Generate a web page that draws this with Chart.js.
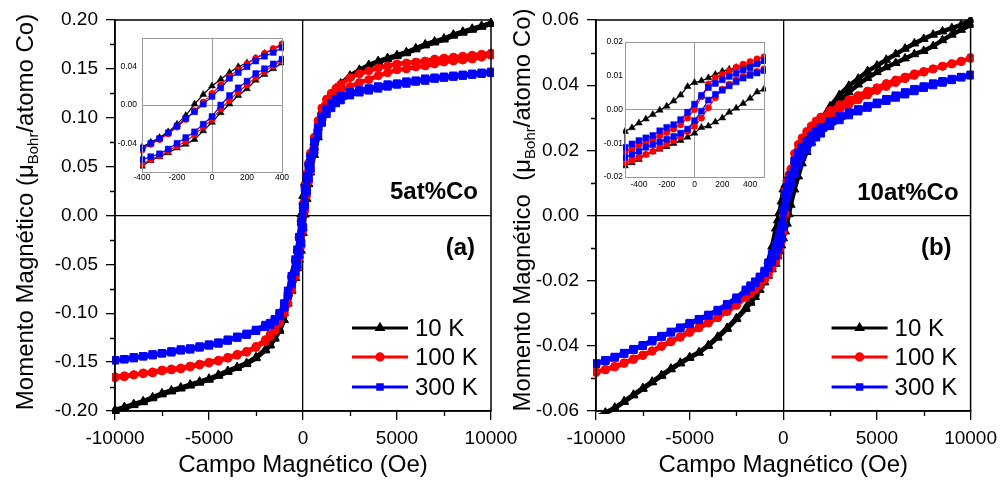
<!DOCTYPE html>
<html>
<head>
<meta charset="utf-8">
<script src="https://cdn.jsdelivr.net/npm/chart.js@4.4.0/dist/chart.umd.min.js"></script>
<style>
  html, body { margin: 0; background: #fff; }
  #wrap { position: relative; width: 1004px; height: 489px; overflow: hidden; background: #fff; }
  #wrap canvas { position: absolute; }
</style>
</head>
<body>
<div id="wrap">
  <canvas id="mainA" width="530" height="489" style="left:0;top:0"></canvas>
  <canvas id="mainB" width="524" height="489" style="left:480px;top:0"></canvas>
  <canvas id="insetA" width="192" height="162" style="left:100px;top:28px"></canvas>
  <canvas id="insetB" width="190" height="162" style="left:585px;top:34px"></canvas>
</div>
<script>
const FONT = 'Arial, "Liberation Sans", sans-serif'

// field grid (Oe) shared by all main loops
const field = [
  -10000, -9500, -9000, -8500, -8000, -7500, -7000, -6500, -6000, -5500, -5000, -4500, -4000, -3500, -3000,
  -2500, -2000,
  -1750, -1500, -1250, -1000,
  -800, -600, -400, -300, -200, -100,
  0,
  100, 200, 300, 400, 600, 800,
  1000, 1250, 1500, 1750,
  2000, 2500,
  3000, 3500, 4000, 4500, 5000, 5500, 6000, 6500, 7000, 7500, 8000, 8500, 9000, 9500, 10000
]
const fieldInsetA = [-400, -350, -300, -250, -200, -150, -100, -50, 0, 50, 100, 150, 200, 250, 300, 350, 400]
const fieldInsetB = [-500, -450, -400, -350, -300, -250, -200, -150, -100, -50, 0, 50, 100, 150, 200, 250, 300, 350, 400, 450, 500]

const temps = ['10 K', '100 K', '300 K']

const xTicksMain = [-10000, -5000, 0, 5000, 10000]
const xMinorMain = [-7500, -2500, 2500, 7500]
const yTicksA = [-0.2, -0.15, -0.1, -0.05, 0, 0.05, 0.1, 0.15, 0.2]
const yMinorA = [-0.175, -0.125, -0.075, -0.025, 0.025, 0.075, 0.125, 0.175]
const yTicksB = [-0.06, -0.04, -0.02, 0, 0.02, 0.04, 0.06]
const yMinorB = [-0.05, -0.03, -0.01, 0.01, 0.03, 0.05]
const xTicksInsetA = [-400, -200, 0, 200, 400]
const yTicksInsetA = [-0.04, 0, 0.04]
const xTicksInsetB = [-400, -200, 0, 200, 400]
const yTicksInsetB = [-0.02, -0.01, 0, 0.01, 0.02]

// 5at%Co  -- "down" = field swept from +10 kOe, "up" = swept back from -10 kOe
const a10Down = [
  -0.199, -0.196, -0.193, -0.190, -0.186, -0.182, -0.179, -0.176, -0.173, -0.170, -0.167, -0.163, -0.159, -0.155, -0.151,
  -0.145, -0.137,
  -0.132, -0.125, -0.116, -0.100,
  -0.080, -0.060, -0.044, -0.034, -0.020, 0.001,
  0.020,
  0.034, 0.044, 0.054, 0.063, 0.075, 0.090,
  0.107, 0.117, 0.124, 0.130,
  0.135, 0.143,
  0.149, 0.154, 0.158, 0.161, 0.164, 0.167, 0.171, 0.175, 0.178, 0.181, 0.185, 0.188, 0.191, 0.194, 0.197
]
const a10Up = [
  -0.200, -0.197, -0.194, -0.191, -0.187, -0.183, -0.180, -0.177, -0.174, -0.171, -0.168, -0.164, -0.160, -0.156, -0.152,
  -0.146, -0.138,
  -0.133, -0.126, -0.118, -0.107,
  -0.090, -0.077, -0.064, -0.054, -0.045, -0.036,
  -0.018,
  0.001, 0.017, 0.032, 0.044, 0.062, 0.080,
  0.100, 0.115, 0.123, 0.129,
  0.134, 0.142,
  0.148, 0.153, 0.157, 0.160, 0.163, 0.166, 0.170, 0.174, 0.177, 0.180, 0.184, 0.187, 0.190, 0.193, 0.196
]
const a100Down = [
  -0.165, -0.164, -0.163, -0.161, -0.160, -0.158, -0.157, -0.156, -0.154, -0.152, -0.150, -0.148, -0.145, -0.142, -0.139,
  -0.134, -0.127,
  -0.122, -0.116, -0.107, -0.095,
  -0.080, -0.064, -0.047, -0.036, -0.023, -0.006,
  0.012,
  0.030, 0.043, 0.054, 0.064, 0.080, 0.097,
  0.110, 0.119, 0.125, 0.130,
  0.134, 0.141,
  0.145, 0.148, 0.151, 0.153, 0.155, 0.156, 0.157, 0.158, 0.160, 0.161, 0.162, 0.163, 0.164, 0.165, 0.166
]
const a100Up = [
  -0.166, -0.165, -0.163, -0.162, -0.161, -0.159, -0.158, -0.157, -0.155, -0.153, -0.151, -0.149, -0.146, -0.143, -0.140,
  -0.135, -0.129,
  -0.124, -0.118, -0.110, -0.100,
  -0.090, -0.076, -0.062, -0.053, -0.043, -0.031,
  -0.015,
  0.005, 0.021, 0.035, 0.046, 0.068, 0.088,
  0.103, 0.113, 0.119, 0.123,
  0.127, 0.132,
  0.136, 0.139, 0.143, 0.146, 0.149, 0.150, 0.152, 0.153, 0.155, 0.157, 0.158, 0.159, 0.160, 0.162, 0.164
]
const a300Down = [
  -0.148, -0.147, -0.145, -0.144, -0.142, -0.141, -0.139, -0.137, -0.136, -0.134, -0.132, -0.130, -0.127, -0.124, -0.121,
  -0.117, -0.112,
  -0.110, -0.106, -0.100, -0.090,
  -0.077, -0.062, -0.045, -0.035, -0.022, -0.007,
  0.009,
  0.028, 0.040, 0.051, 0.060, 0.075, 0.090,
  0.101, 0.109, 0.115, 0.119,
  0.122, 0.126,
  0.128, 0.130, 0.132, 0.134, 0.135, 0.137, 0.138, 0.140, 0.141, 0.142, 0.143, 0.144, 0.145, 0.146, 0.147
]
const a300Up = [
  -0.148, -0.147, -0.146, -0.144, -0.143, -0.141, -0.140, -0.138, -0.137, -0.135, -0.133, -0.131, -0.128, -0.125, -0.122,
  -0.118, -0.114,
  -0.112, -0.108, -0.103, -0.094,
  -0.082, -0.070, -0.057, -0.051, -0.040, -0.028,
  -0.012,
  0.010, 0.025, 0.038, 0.048, 0.066, 0.083,
  0.095, 0.104, 0.110, 0.115,
  0.118, 0.123,
  0.126, 0.128, 0.130, 0.132, 0.134, 0.135, 0.137, 0.138, 0.140, 0.141, 0.142, 0.143, 0.144, 0.145, 0.146
]

// 10at%Co
const b10Down = [
  -0.0620, -0.0605, -0.0590, -0.0570, -0.0550, -0.0530, -0.0510, -0.0490, -0.0470, -0.0452, -0.0435, -0.0420, -0.0398, -0.0372, -0.0345,
  -0.0315, -0.0283,
  -0.0262, -0.0240, -0.0215, -0.0185,
  -0.0140, -0.0095, -0.0040, -0.0015, 0.0010, 0.0043,
  0.0080,
  0.0094, 0.0113, 0.0124, 0.0133, 0.0160, 0.0180,
  0.0200, 0.0228, 0.0252, 0.0275,
  0.0295, 0.0335,
  0.0370, 0.0398, 0.0420, 0.0443, 0.0460, 0.0478, 0.0495, 0.0512, 0.0528, 0.0542, 0.0555, 0.0565, 0.0575, 0.0585, 0.0600
]
const b10Up = [
  -0.0622, -0.0607, -0.0592, -0.0572, -0.0552, -0.0532, -0.0512, -0.0492, -0.0472, -0.0454, -0.0437, -0.0421, -0.0400, -0.0375, -0.0348,
  -0.0318, -0.0287,
  -0.0268, -0.0250, -0.0228, -0.0205,
  -0.0185, -0.0165, -0.0148, -0.0125, -0.0110, -0.0092,
  -0.0070,
  -0.0049, -0.0025, 0.0004, 0.0033, 0.0080, 0.0120,
  0.0160, 0.0195, 0.0225, 0.0250,
  0.0275, 0.0315,
  0.0350, 0.0378, 0.0402, 0.0422, 0.0440, 0.0455, 0.0468, 0.0482, 0.0495, 0.0505, 0.0520, 0.0538, 0.0555, 0.0570, 0.0585
]
const b100Down = [
  -0.0480, -0.0472, -0.0463, -0.0452, -0.0440, -0.0428, -0.0415, -0.0400, -0.0386, -0.0372, -0.0357, -0.0343, -0.0328, -0.0312, -0.0292,
  -0.0272, -0.0248,
  -0.0235, -0.0222, -0.0208, -0.0190,
  -0.0168, -0.0140, -0.0106, -0.0088, -0.0068, -0.0045,
  0.0000,
  0.0075, 0.0104, 0.0125, 0.0142, 0.0190, 0.0218,
  0.0238, 0.0258, 0.0275, 0.0290,
  0.0302, 0.0322,
  0.0340, 0.0355, 0.0368, 0.0382, 0.0392, 0.0405, 0.0416, 0.0425, 0.0435, 0.0442, 0.0450, 0.0458, 0.0465, 0.0472, 0.0485
]
const b100Up = [
  -0.0482, -0.0474, -0.0465, -0.0454, -0.0442, -0.0430, -0.0417, -0.0402, -0.0388, -0.0374, -0.0359, -0.0345, -0.0330, -0.0314, -0.0295,
  -0.0276, -0.0252,
  -0.0240, -0.0228, -0.0213, -0.0198,
  -0.0182, -0.0162, -0.0142, -0.0124, -0.0103, -0.0080,
  -0.0050,
  0.0005, 0.0060, 0.0088, 0.0106, 0.0140, 0.0170,
  0.0195, 0.0222, 0.0245, 0.0262,
  0.0278, 0.0303,
  0.0322, 0.0340, 0.0355, 0.0370, 0.0384, 0.0396, 0.0408, 0.0420, 0.0430, 0.0440, 0.0450, 0.0458, 0.0466, 0.0474, 0.0482
]
const b300Down = [
  -0.0454, -0.0444, -0.0434, -0.0422, -0.0410, -0.0398, -0.0383, -0.0370, -0.0357, -0.0344, -0.0330, -0.0318, -0.0305, -0.0290, -0.0272,
  -0.0252, -0.0228,
  -0.0215, -0.0203, -0.0188, -0.0170,
  -0.0145, -0.0118, -0.0092, -0.0077, -0.0053, -0.0030,
  0.0016,
  0.0065, 0.0088, 0.0107, 0.0124, 0.0168, 0.0192,
  0.0210, 0.0228, 0.0245, 0.0258,
  0.0270, 0.0289,
  0.0304, 0.0316, 0.0326, 0.0336, 0.0346, 0.0357, 0.0368, 0.0378, 0.0388, 0.0396, 0.0405, 0.0412, 0.0419, 0.0425, 0.0432
]
const b300Up = [
  -0.0455, -0.0446, -0.0436, -0.0424, -0.0412, -0.0400, -0.0386, -0.0372, -0.0359, -0.0346, -0.0333, -0.0320, -0.0307, -0.0293, -0.0275,
  -0.0256, -0.0232,
  -0.0220, -0.0207, -0.0192, -0.0176,
  -0.0160, -0.0142, -0.0124, -0.0104, -0.0088, -0.0070,
  -0.0033,
  0.0028, 0.0057, 0.0082, 0.0101, 0.0128, 0.0155,
  0.0180, 0.0205, 0.0225, 0.0240,
  0.0252, 0.0275,
  0.0293, 0.0308, 0.0320, 0.0331, 0.0342, 0.0352, 0.0362, 0.0372, 0.0382, 0.0392, 0.0400, 0.0408, 0.0416, 0.0424, 0.0430
]

// low-field detail, 5at%Co
const ia10Down = [-0.044, -0.039, -0.034, -0.028, -0.020, -0.011, 0.001, 0.011, 0.020, 0.027, 0.034, 0.040, 0.044, 0.049, 0.054, 0.058, 0.063]
const ia10Up = [-0.064, -0.058, -0.054, -0.050, -0.045, -0.041, -0.036, -0.027, -0.018, -0.008, 0.001, 0.010, 0.017, 0.026, 0.032, 0.038, 0.044]
const ia100Down = [-0.047, -0.041, -0.036, -0.030, -0.023, -0.015, -0.006, 0.003, 0.012, 0.021, 0.030, 0.037, 0.043, 0.049, 0.054, 0.059, 0.064]
const ia100Up = [-0.062, -0.057, -0.053, -0.048, -0.043, -0.038, -0.031, -0.023, -0.015, -0.004, 0.005, 0.014, 0.021, 0.029, 0.035, 0.041, 0.046]
const ia300Down = [-0.045, -0.040, -0.035, -0.029, -0.022, -0.014, -0.007, 0.001, 0.009, 0.018, 0.028, 0.034, 0.040, 0.046, 0.051, 0.055, 0.060]
const ia300Up = [-0.057, -0.054, -0.051, -0.046, -0.040, -0.034, -0.028, -0.020, -0.012, 0.000, 0.010, 0.018, 0.025, 0.033, 0.038, 0.043, 0.048]

// low-field detail, 10at%Co
const ib10Down = [-0.0065, -0.0054, -0.0040, -0.0028, -0.0015, -0.0002, 0.0010, 0.0025, 0.0043, 0.0068, 0.0080, 0.0085, 0.0094, 0.0104, 0.0113, 0.0119, 0.0124, 0.0129, 0.0133, 0.0138, 0.0142]
const ib10Up = [-0.0167, -0.0158, -0.0148, -0.0134, -0.0125, -0.0118, -0.0110, -0.0101, -0.0092, -0.0082, -0.0070, -0.0053, -0.0049, -0.0037, -0.0025, -0.0008, 0.0004, 0.0018, 0.0033, 0.0052, 0.0060]
const ib100Down = [-0.0125, -0.0116, -0.0106, -0.0097, -0.0088, -0.0078, -0.0068, -0.0058, -0.0045, -0.0025, 0.0000, 0.0038, 0.0075, 0.0094, 0.0104, 0.0115, 0.0125, 0.0134, 0.0142, 0.0150, 0.0156]
const ib100Up = [-0.0158, -0.0150, -0.0142, -0.0133, -0.0124, -0.0113, -0.0103, -0.0092, -0.0080, -0.0065, -0.0050, -0.0025, 0.0005, 0.0035, 0.0060, 0.0075, 0.0088, 0.0098, 0.0106, 0.0113, 0.0120]
const ib300Down = [-0.0112, -0.0102, -0.0092, -0.0084, -0.0077, -0.0063, -0.0053, -0.0045, -0.0030, -0.0008, 0.0016, 0.0042, 0.0065, 0.0077, 0.0088, 0.0098, 0.0107, 0.0117, 0.0124, 0.0135, 0.0145]
const ib300Up = [-0.0142, -0.0133, -0.0124, -0.0112, -0.0104, -0.0096, -0.0088, -0.0080, -0.0070, -0.0058, -0.0033, -0.0005, 0.0028, 0.0045, 0.0057, 0.0070, 0.0082, 0.0093, 0.0101, 0.0108, 0.0115]

// marker look per temperature; blue ends up on top
const series = [
  { color: '#000000', style: 'triangle', order: 2, r: 5, ri: 4 },
  { color: '#ff0000', style: 'circle', order: 1, r: 4, ri: 3.2 },
  { color: '#0000ff', style: 'rect', order: 0, r: 5.2, ri: 4.2 }
]

// descending branch then ascending branch -> closed loop
function loop(h, down, up) {
  const pts = []
  for (let i = h.length - 1; i >= 0; i--) pts.push({ x: h[i], y: down[i] })
  for (let i = 0; i < h.length; i++) pts.push({ x: h[i], y: up[i] })
  return pts
}

function makeDatasets(loops, small) {
  return loops.map((pts, i) => ({
    label: temps[i],
    data: pts,
    showLine: true,
    borderColor: series[i].color,
    backgroundColor: series[i].color,
    pointBackgroundColor: series[i].color,
    pointBorderColor: series[i].color,
    pointStyle: series[i].style,
    pointRadius: small ? series[i].ri : series[i].r,
    pointBorderWidth: small ? 0.5 : 1,
    borderWidth: small ? 1.2 : 4.5,
    order: series[i].order,
    clip: small ? 2 : 3
  }))
}

const zeroLine = color => c => (c.tick && Math.abs(c.tick.value) < 1e-12 ? color : 'rgba(0,0,0,0)')

// frame, minor ticks, legend, panel labels and the y title with subscript
const panelDecor = {
  id: 'panelDecor',
  afterDraw(chart, args, o) {
    const { ctx, chartArea: a } = chart
    const xs = chart.scales.x, ys = chart.scales.y
    ctx.save()
    ctx.strokeStyle = '#000'
    ctx.lineWidth = 1.5
    ctx.strokeRect(a.left, a.top, a.right - a.left, a.bottom - a.top)

    ctx.lineWidth = 1.3
    ctx.beginPath()
    o.xMinor.forEach(v => {
      const p = Math.round(xs.getPixelForValue(v)) + 0.5
      ctx.moveTo(p, a.bottom); ctx.lineTo(p, a.bottom + 5)
    })
    o.yMinor.forEach(v => {
      const p = Math.round(ys.getPixelForValue(v)) + 0.5
      ctx.moveTo(a.left - 5, p); ctx.lineTo(a.left, p)
    })
    ctx.stroke()

    // legend
    const rows = [83, 54, 24]
    temps.forEach((t, i) => {
      const y = a.bottom - rows[i]
      const x0 = a.right - 139, x1 = a.right - 83
      ctx.strokeStyle = series[i].color
      ctx.fillStyle = series[i].color
      ctx.lineWidth = 3
      ctx.beginPath(); ctx.moveTo(x0, y); ctx.lineTo(x1, y); ctx.stroke()
      Chart.helpers.drawPoint(ctx, { pointStyle: series[i].style, radius: 3.2, rotation: 0, borderWidth: 1 }, (x0 + x1) / 2, y)
      ctx.fillStyle = '#000'
      ctx.font = '24px ' + FONT
      ctx.textAlign = 'left'
      ctx.textBaseline = 'middle'
      ctx.fillText(t, a.right - 76, y + 1)
    })

    // panel labels
    ctx.fillStyle = '#000'
    ctx.font = 'bold 24px ' + FONT
    ctx.textAlign = 'right'
    ctx.textBaseline = 'middle'
    o.labels.forEach(l => ctx.fillText(l.text, a.right - l.dx, l.y))

    // y axis title, rotated, with "Bohr" as subscript
    const big = '24px ' + FONT, small = '15px ' + FONT
    ctx.font = big
    const w1 = ctx.measureText(o.yTitle[0]).width
    const w3 = ctx.measureText(o.yTitle[2]).width
    ctx.font = small
    const w2 = ctx.measureText(o.yTitle[1]).width
    ctx.translate(o.yTitleX, o.yTitleY)
    ctx.rotate(-Math.PI / 2)
    ctx.textAlign = 'left'
    ctx.textBaseline = 'alphabetic'
    let x = -(w1 + w2 + w3) / 2
    ctx.font = big; ctx.fillText(o.yTitle[0], x, 0); x += w1
    ctx.font = small; ctx.fillText(o.yTitle[1], x, 5); x += w2
    ctx.font = big; ctx.fillText(o.yTitle[2], x, 0)
    ctx.restore()
  }
}

const insetFrame = {
  id: 'insetFrame',
  afterDraw(chart) {
    const { ctx, chartArea: a } = chart
    ctx.save()
    ctx.strokeStyle = '#9a9a9a'
    ctx.lineWidth = 1
    ctx.strokeRect(Math.round(a.left) + 0.5, Math.round(a.top) + 0.5, Math.round(a.right - a.left), Math.round(a.bottom - a.top))
    ctx.restore()
  }
}

function mainChart(id, o) {
  return new Chart(document.getElementById(id), {
    type: 'scatter',
    data: { datasets: o.datasets },
    options: {
      responsive: false,
      animation: false,
      devicePixelRatio: 1,
      layout: { padding: { left: 0, right: o.padRight, top: 20, bottom: 0 }, autoPadding: false },
      plugins: { legend: { display: false }, tooltip: { enabled: false }, panelDecor: o.decor },
      scales: {
        x: {
          type: 'linear', min: -10000, max: 10000,
          afterBuildTicks: s => { s.ticks = xTicksMain.map(v => ({ value: v })) },
          afterFit: s => { s.height = 78 },
          ticks: { font: { family: FONT, size: 19 }, color: '#000', padding: 7, maxRotation: 0, autoSkip: false, callback: v => String(v) },
          grid: { color: zeroLine('#000'), lineWidth: 1.3, tickColor: '#000', tickLength: 9, tickWidth: 1.3 },
          border: { color: '#000', width: 1.5 },
          title: { display: true, text: 'Campo Magnético (Oe)', color: '#000', font: { family: FONT, size: 24 }, padding: { top: 0, bottom: 9 } }
        },
        y: {
          type: 'linear', min: o.yMin, max: o.yMax,
          afterBuildTicks: s => { s.ticks = o.yTicks.map(v => ({ value: v })) },
          afterFit: s => { s.width = o.yWidth },
          ticks: { font: { family: FONT, size: 19 }, color: '#000', padding: 8, autoSkip: false, callback: v => v.toFixed(2) },
          grid: { color: zeroLine('#000'), lineWidth: 1.3, tickColor: '#000', tickLength: 9, tickWidth: 1.3 },
          border: { color: '#000', width: 1.5 }
        }
      }
    },
    plugins: [panelDecor]
  })
}

function insetChart(id, o) {
  return new Chart(document.getElementById(id), {
    type: 'scatter',
    data: { datasets: o.datasets },
    options: {
      responsive: false,
      animation: false,
      devicePixelRatio: 1,
      layout: { padding: { left: 0, right: o.padRight, top: 8, bottom: 0 }, autoPadding: false },
      plugins: { legend: { display: false }, tooltip: { enabled: false } },
      scales: {
        x: {
          type: 'linear', min: o.xMin, max: o.xMax,
          afterBuildTicks: s => { s.ticks = o.xTicks.map(v => ({ value: v })) },
          afterFit: s => { s.height = o.xHeight },
          ticks: { font: { family: FONT, size: 8.5 }, color: '#000', padding: o.xPad, maxRotation: 0, autoSkip: false, callback: v => String(v) },
          grid: { color: zeroLine('#9a9a9a'), lineWidth: 1, drawTicks: false },
          border: { color: '#9a9a9a', width: 1 }
        },
        y: {
          type: 'linear', min: o.yMin, max: o.yMax,
          afterBuildTicks: s => { s.ticks = o.yTicks.map(v => ({ value: v })) },
          afterFit: s => { s.width = o.yWidth },
          ticks: { font: { family: FONT, size: 8.5 }, color: '#000', padding: o.yPad, autoSkip: false, callback: v => v.toFixed(2) },
          grid: { color: zeroLine('#9a9a9a'), lineWidth: 1, drawTicks: false },
          border: { color: '#9a9a9a', width: 1 }
        }
      }
    },
    plugins: [insetFrame]
  })
}

mainChart('mainA', {
  datasets: makeDatasets([loop(field, a10Down, a10Up), loop(field, a100Down, a100Up), loop(field, a300Down, a300Up)], false),
  yMin: -0.2, yMax: 0.2, yTicks: yTicksA, yWidth: 115, padRight: 39,
  decor: {
    xMinor: xMinorMain, yMinor: yMinorA,
    labels: [{ text: '5at%Co', dx: 13, y: 192 }, { text: '(a)', dx: 16, y: 248 }],
    yTitle: ['Momento Magnético (μ', 'Bohr', '/atomo Co)'], yTitleX: 33, yTitleY: 212
  }
})

mainChart('mainB', {
  datasets: makeDatasets([loop(field, b10Down, b10Up), loop(field, b100Down, b100Up), loop(field, b300Down, b300Up)], false),
  yMin: -0.06, yMax: 0.06, yTicks: yTicksB, yWidth: 116, padRight: 32,
  decor: {
    xMinor: xMinorMain, yMinor: yMinorB,
    labels: [{ text: '10at%Co', dx: 12, y: 193 }, { text: '(b)', dx: 19, y: 248 }],
    yTitle: ['Momento Magnético  (μ', 'Bohr', '/atomo Co)'], yTitleX: 50, yTitleY: 210
  }
})

insetChart('insetA', {
  datasets: makeDatasets([loop(fieldInsetA, ia10Down, ia10Up), loop(fieldInsetA, ia100Down, ia100Up), loop(fieldInsetA, ia300Down, ia300Up)], true),
  xMin: -400, xMax: 400, yMin: -0.07, yMax: 0.07,
  xTicks: xTicksInsetA, yTicks: yTicksInsetA,
  yWidth: 42, xHeight: 18, padRight: 10, xPad: 1, yPad: 5
})

insetChart('insetB', {
  datasets: makeDatasets([loop(fieldInsetB, ib10Down, ib10Up), loop(fieldInsetB, ib100Down, ib100Up), loop(fieldInsetB, ib300Down, ib300Up)], true),
  xMin: -500, xMax: 500, yMin: -0.02, yMax: 0.02,
  xTicks: xTicksInsetB, yTicks: yTicksInsetB,
  yWidth: 40, xHeight: 19, padRight: 11, xPad: 3, yPad: 2
})
</script>
</body>
</html>
